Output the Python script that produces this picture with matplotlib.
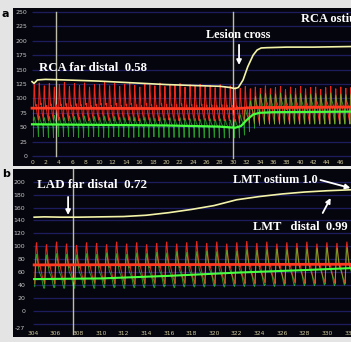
import numpy as np
import matplotlib
matplotlib.use('Agg')
import matplotlib.pyplot as plt

# ---------------- data ----------------
top_yticks = [0, 25, 50, 75, 100, 125, 150, 175, 200, 225, 250]
top_xticks = list(range(0, 48, 2))
bot_yticks = [-27, 0, 20, 40, 60, 80, 100, 120, 140, 160, 180, 200]
bot_grid = [-20, 0, 20, 40, 60, 80, 100, 120, 140, 160, 180, 200]
bot_xticks = list(range(304, 334, 2))

# top panel (RCA pullback) mean traces
top_yel_x = [0, 0.3, 0.8, 2, 5, 10, 15, 20, 25, 28, 29.5, 30.3, 30.8, 31.5, 32.2, 33, 33.6, 34.2, 35, 38, 42, 47.6]
top_yel_y = [129, 126, 132, 133, 132, 130, 127, 124, 122, 121, 119, 117, 119, 132, 155, 175, 184, 187.5, 188, 189, 189, 190]
top_redm_x = [0, 30, 33, 47.6]
top_redm_y = [83, 82, 84, 85]
top_grnm_x = [0, 10, 20, 28, 30.3, 31.2, 32, 33, 34, 36, 47.6]
top_grnm_y = [55, 54, 53, 51, 49, 52, 62, 72, 75, 76, 77]

# top panel beats
top_beat_t = [0.2, 0.95, 1.7, 2.45, 3.2, 3.95, 4.7, 5.45, 6.2, 6.95, 7.7, 8.45, 9.2, 9.95,
              10.7, 11.45, 12.2, 12.95, 13.7, 14.45, 15.2, 15.95, 16.7, 17.45, 18.2, 18.95,
              19.7, 20.45, 21.2, 21.95, 22.7, 23.45, 24.2, 24.95, 25.7, 26.45, 27.2, 27.95,
              28.7, 29.45, 30.2, 30.95, 31.7, 32.45, 33.2, 33.95, 34.7, 35.45, 36.2, 36.95,
              37.7, 38.45, 39.2, 39.95, 40.7, 41.45, 42.2, 42.95, 43.7, 44.45, 45.2, 45.95,
              46.7, 47.45]
top_red_sys = [124, 127, 122, 126, 120, 125, 128, 121, 126, 123, 127, 120, 125, 124, 128, 122,
               126, 121, 125, 127, 123, 120, 126, 124, 122, 127, 121, 125, 123, 126, 120, 124,
               122, 125, 121, 123, 119, 124, 121, 122, 120,
               118, 121, 117, 120, 118, 122, 117, 119, 121, 116, 120, 118, 121, 117, 119, 120,
               116, 119, 121, 117, 120, 118, 119]
top_red_dia = [62, 63, 61, 62, 64, 62, 61, 63, 62, 62, 63, 61, 62, 64, 62, 61, 63, 62, 62, 63,
               61, 62, 63, 62, 61, 62, 63, 62, 61, 62, 63, 62, 61, 62, 62, 61, 62, 61, 62, 61, 60,
               58, 57, 57, 56, 57, 56, 57, 56, 57, 56, 57, 56, 57, 56, 57, 56, 57, 56, 57, 56,
               57, 56, 57]
top_grn_sys = [68, 70, 67, 69, 71, 68, 67, 70, 69, 68, 70, 67, 69, 68, 70, 67, 69, 68, 67, 69,
               68, 66, 68, 67, 66, 68, 66, 67, 65, 67, 66, 65, 66, 64, 66, 65, 64, 65, 64, 63, 64,
               72, 84, 96, 104, 108, 109, 107, 108, 110, 106, 108, 107, 109, 106, 108, 109,
               106, 108, 110, 106, 108, 107, 108]
top_grn_dia = [33, 34, 33, 32, 34, 33, 33, 34, 33, 32, 33, 34, 33, 33, 32, 34, 33, 33, 34, 32,
               33, 33, 32, 33, 33, 32, 33, 32, 33, 32, 32, 33, 32, 32, 31, 32, 32, 31, 32, 31, 31,
               36, 42, 48, 53, 55, 56, 55, 56, 55, 56, 55, 56, 55, 56, 55, 56, 55, 56, 55, 56,
               55, 56, 55]

# bottom panel (LAD -> LMT pullback) mean traces
bot_yel_x = [304.1, 305, 306.5, 308, 310, 312, 314, 316, 318, 320, 322, 324, 326, 328, 330, 332.1]
bot_yel_y = [145, 145.5, 145, 145, 145.5, 146, 148, 152, 157, 163, 172, 177, 181, 184, 186, 187.5]
bot_redm_x = [304.1, 332.1]
bot_redm_y = [71, 72]
bot_grnm_x = [304.1, 310, 316, 322, 328, 332.1]
bot_grnm_y = [49, 50, 54, 59, 63, 66]

bot_beat_t = [304.15, 305.03, 305.92, 306.8, 307.69, 308.57, 309.46, 310.34, 311.23, 312.11,
              313.0, 313.88, 314.77, 315.65, 316.54, 317.42, 318.31, 319.19, 320.08, 320.96,
              321.85, 322.73, 323.62, 324.5, 325.39, 326.27, 327.16, 328.04, 328.93, 329.81,
              330.7, 331.58]
bot_red_sys = [106, 103, 107, 104, 102, 106, 105, 103, 107, 104, 106, 103, 105, 107, 104, 106,
               108, 105, 107, 104, 106, 108, 105, 107, 104, 106, 105, 107, 104, 106, 105, 107]
bot_red_dia = [42, 43, 42, 41, 43, 42, 42, 43, 42, 41, 43, 42, 42, 43, 42, 42, 43, 42, 43, 42,
               43, 42, 43, 43, 42, 43, 43, 42, 43, 43, 42, 43]
bot_grn_sys = [88, 87, 89, 88, 87, 89, 88, 90, 89, 88, 90, 89, 91, 90, 92, 91, 92, 93, 92, 94,
               93, 95, 94, 95, 96, 95, 97, 96, 97, 98, 97, 98]
bot_grn_dia = [34, 35, 34, 34, 35, 34, 35, 35, 34, 35, 35, 35, 36, 35, 36, 36, 36, 37, 36, 37,
               37, 37, 38, 37, 38, 38, 38, 38, 39, 38, 39, 39]

# beat shape templates (phase within beat, normalised level)
red_phase = [0.0, 0.12, 0.18, 0.28, 0.40, 0.46, 0.52, 0.75, 1.0]
red_level = [0.0, 0.85, 1.0, 0.72, 0.45, 0.40, 0.45, 0.18, 0.0]
grn_phase_top = [0.0, 0.10, 0.20, 0.40, 0.70, 0.90, 1.0]
grn_level_top = [0.0, 0.85, 1.0, 0.75, 0.6, 0.5, 0.0]
grn_phase_bot = [0.0, 0.12, 0.20, 0.32, 0.45, 0.55, 0.70, 0.82, 0.90, 0.95, 1.0]
grn_level_bot = [0.06, 0.85, 1.0, 0.72, 0.48, 0.42, 0.30, 0.12, 0.03, 0.01, 0.06]

# ---------------- styling ----------------
BG = '#05050e'
GRID = '#1d1d5e'
RED = '#ff2a1a'
GRN = '#36ff36'
YEL = '#f4f4a8'
VLINE = '#bdbdaa'


def beats(ax, t, sys_, dia, phase, level, color, lw, alpha, z):
    xs, ys = [], []
    ph = np.asarray(phase)
    lv = np.asarray(level)
    for k in range(len(t)):
        per = (t[k + 1] - t[k]) if k + 1 < len(t) else (t[k] - t[k - 1])
        xs.append(t[k] + ph * per)
        ys.append(dia[k] + lv * (sys_[k] - dia[k]))
    ax.plot(np.concatenate(xs), np.concatenate(ys), color=color, lw=lw, alpha=alpha,
            zorder=z, solid_joinstyle='miter')


fig = plt.figure(figsize=(3.51, 3.42), dpi=100, facecolor='#e4e4e4')
W, H = 351.0, 342.0


def add_ax(x0, y0, x1, y1):
    return fig.add_axes([x0 / W, 1 - y1 / H, (x1 - x0) / W, (y1 - y0) / H])


ax1 = add_ax(13, 8, 351, 166)
ax2 = add_ax(13, 169, 351, 337)

for ax in (ax1, ax2):
    ax.set_facecolor(BG)
    for s in ax.spines.values():
        s.set_visible(False)

# ---- top panel ----
ax1.set_xlim(-2.84, 47.61)
ax1.set_ylim(-17.4, 256.9)
ax1.hlines(top_yticks, 0, 47.61, color=GRID, lw=0.9, zorder=1)
ax1.set_yticks(top_yticks, [str(v) for v in top_yticks])
ax1.set_xticks(top_xticks, [str(v) for v in top_xticks])
ax1.tick_params(axis='y', length=0, pad=-10.1, labelsize=4.5, labelcolor='#c4c4c4')
ax1.tick_params(axis='x', length=0, pad=-4.0, labelsize=4.3, labelcolor='#cfc79a')
ax1.axvline(3.6, ymin=(0 + 17.4) / 274.3, ymax=(250 + 17.4) / 274.3, color=VLINE, lw=1.0, zorder=2)
ax1.axvline(30.0, ymin=(-3 + 17.4) / 274.3, ymax=(250 + 17.4) / 274.3, color=VLINE, lw=1.0, zorder=2)

beats(ax1, top_beat_t, top_red_sys, top_red_dia, red_phase, red_level, RED, 0.7, 0.95, 3)
beats(ax1, top_beat_t, top_grn_sys, top_grn_dia, grn_phase_top, grn_level_top, GRN, 0.6, 0.6, 4)
ax1.plot(top_redm_x, top_redm_y, color='#ff3a22', lw=2.0, zorder=5)
ax1.plot(top_grnm_x, top_grnm_y, color='#48ff40', lw=1.6, zorder=5)
ax1.plot(top_yel_x, top_yel_y, color=YEL, lw=1.2, zorder=6)

txt = dict(color='white', fontweight='bold', family='Liberation Serif')
ax1.text(1.04, 153.6, 'RCA far distal  0.58', fontsize=9.2, va='center', ha='left', **txt)
ax1.text(30.8, 210, 'Lesion cross', fontsize=8.8, va='center', ha='center', **txt)
ax1.text(40.1, 237.8, 'RCA ostium 1.0', fontsize=9.0, va='center', ha='left', clip_on=True, **txt)
ax1.annotate('', xy=(30.9, 158), xytext=(30.9, 193),
             arrowprops=dict(arrowstyle='-|>', color='white', lw=1.3, mutation_scale=7,
                             shrinkA=0, shrinkB=0), zorder=7)

# ---- bottom panel ----
ax2.set_xlim(302.23, 332.1)
ax2.set_ylim(-40.8, 219.7)
ax2.hlines(bot_grid, 304.0, 332.1, color=GRID, lw=0.9, zorder=1)
ax2.set_yticks(bot_yticks, [str(v) for v in bot_yticks])
ax2.set_xticks(bot_xticks, [str(v) for v in bot_xticks])
ax2.tick_params(axis='y', length=0, pad=-8.8, labelsize=4.5, labelcolor='#c4c4c4')
ax2.tick_params(axis='x', length=0, pad=-4.3, labelsize=4.3, labelcolor='#cfc79a')
ax2.axvline(307.54, ymin=0.02, ymax=1.0, color=VLINE, lw=1.0, zorder=2)

beats(ax2, bot_beat_t, bot_red_sys, bot_red_dia, red_phase, red_level, RED, 0.8, 0.9, 3)
beats(ax2, bot_beat_t, bot_grn_sys, bot_grn_dia, grn_phase_bot, grn_level_bot, GRN, 0.7, 0.6, 4)
ax2.plot(bot_redm_x, bot_redm_y, color='#ff3a22', lw=2.0, zorder=5)
ax2.plot(bot_grnm_x, bot_grnm_y, color='#48ff40', lw=1.5, zorder=5)
ax2.plot(bot_yel_x, bot_yel_y, color=YEL, lw=1.2, zorder=6)

ax2.text(304.35, 194.9, 'LAD far distal  0.72', fontsize=9.4, va='center', ha='left', **txt)
ax2.text(321.7, 202.6, 'LMT ostium 1.0', fontsize=8.8, va='center', ha='left', **txt)
ax2.text(323.4, 129.8, 'LMT   distal  0.99', fontsize=9.0, va='center', ha='left', **txt)
ax2.annotate('', xy=(307.1, 148.4), xytext=(307.1, 176.3),
             arrowprops=dict(arrowstyle='-|>', color='white', lw=1.3, mutation_scale=7,
                             shrinkA=0, shrinkB=0), zorder=7)
ax2.annotate('', xy=(332.05, 190.2), xytext=(329.4, 202.6),
             arrowprops=dict(arrowstyle='-|>', color='white', lw=1.3, mutation_scale=7,
                             shrinkA=0, shrinkB=0), zorder=7)
ax2.annotate('', xy=(330.3, 174.7), xytext=(329.6, 151.5),
             arrowprops=dict(arrowstyle='-|>', color='white', lw=1.3, mutation_scale=7,
                             shrinkA=0, shrinkB=0), zorder=7)

# panel letters partly hidden by the panels
fig.text(2 / W, 1 - 14 / H, 'a', fontsize=8, fontweight='bold', color='black', va='center',
         zorder=-1)
fig.text(2 / W, 1 - 174 / H, 'b', fontsize=8, fontweight='bold', color='black', va='center',
         zorder=-1)

fig.savefig('out.png', dpi=100, facecolor=fig.get_facecolor())
